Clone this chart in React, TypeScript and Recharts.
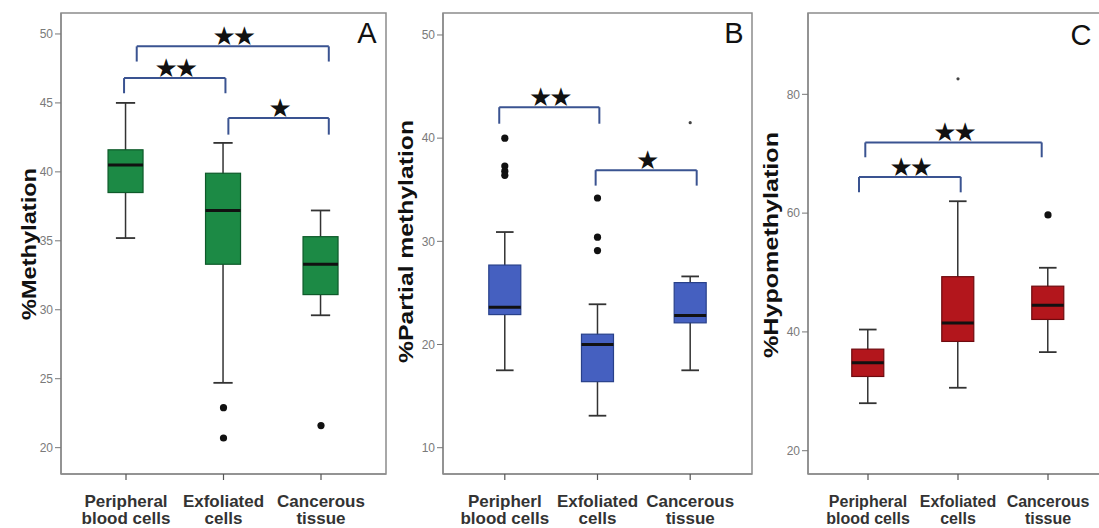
import React from 'react';
import { ComposedChart, Bar, Scatter, XAxis, YAxis, ReferenceLine, ReferenceArea } from 'recharts';

// ---------- shared ----------
const groupIndex = [0, 1, 2];

// ---------- Panel A : %Methylation ----------
const labelsA = [['Peripheral', 'blood cells'], ['Exfoliated', 'cells'], ['Cancerous', 'tissue']];
const ticksA = [20, 25, 30, 35, 40, 45, 50];
const minA = [35.2, 24.7, 29.6];
const q1A = [38.5, 33.3, 31.1];
const medA = [40.5, 37.2, 33.3];
const q3A = [41.6, 39.9, 35.3];
const maxA = [45.0, 42.1, 37.2];
const outlierXA = [1, 1, 2];
const outlierYA = [22.9, 20.7, 21.6];
const extremeXA: number[] = [];
const extremeYA: number[] = [];
const bracketFromA = [0.11, -0.02, 1.05];
const bracketToA = [2.08, 1.02, 2.08];
const bracketTopA = [49.1, 46.8, 43.9];
const bracketLowA = [48.0, 45.7, 42.7];
const signifA = ['★★', '★★', '★'];

// ---------- Panel B : %Partial methylation ----------
const labelsB = [['Peripherl', 'blood cells'], ['Exfoliated', 'cells'], ['Cancerous', 'tissue']];
const ticksB = [10, 20, 30, 40, 50];
const minB = [17.5, 13.1, 17.5];
const q1B = [22.9, 16.4, 22.1];
const medB = [23.6, 20.0, 22.8];
const q3B = [27.7, 21.0, 26.0];
const maxB = [30.9, 23.9, 26.6];
const outlierXB = [0, 0, 0, 0, 1, 1, 1];
const outlierYB = [40.0, 37.3, 36.8, 36.4, 34.2, 30.4, 29.1];
const extremeXB = [2];
const extremeYB = [41.5];
const bracketFromB = [-0.06, 0.98];
const bracketToB = [1.02, 2.07];
const bracketTopB = [43.0, 36.9];
const bracketLowB = [41.4, 35.4];
const signifB = ['★★', '★'];

// ---------- Panel C : %Hypomethylation ----------
const labelsC = [['Peripheral', 'blood cells'], ['Exfoliated', 'cells'], ['Cancerous', 'tissue']];
const ticksC = [20, 40, 60, 80];
const minC = [28.0, 30.6, 36.6];
const q1C = [32.5, 38.4, 42.1];
const medC = [34.8, 41.5, 44.5];
const q3C = [37.1, 49.3, 47.7];
const maxC = [40.4, 62.0, 50.8];
const outlierXC = [2];
const outlierYC = [59.7];
const extremeXC = [1];
const extremeYC = [82.6];
const bracketFromC = [-0.03, -0.1];
const bracketToC = [1.93, 1.03];
const bracketTopC = [71.9, 66.1];
const bracketLowC = [69.4, 63.5];
const signifC = ['★★', '★★'];

const FONT = '"Liberation Sans", Arial, Helvetica, sans-serif';
const FRAME = '#8c8c8c';
const BRACKET = '#3a5391';

type PanelProps = {
  left: number;
  width: number;
  yAxisWidth: number;
  domain: [number, number];
  ticks: number[];
  labels: string[][];
  mins: number[];
  q1s: number[];
  meds: number[];
  q3s: number[];
  maxs: number[];
  outX: number[];
  outY: number[];
  extX: number[];
  extY: number[];
  bFrom: number[];
  bTo: number[];
  bTop: number[];
  bLow: number[];
  signif: string[];
  fill: string;
  stroke: string;
  boxWidth: number;
  yLabel: string;
  yLabelX: number;
  yLabelDy: number;
  yLabelLen: number;
  letter: string;
  letterDx: number;
  letterDy: number;
  xFontSize: number;
};

const X_DOMAIN: [number, number] = [-2 / 3, 8 / 3];

function Panel(p: PanelProps) {
  const data = groupIndex.map((i) => ({
    x: i,
    min: p.mins[i],
    q1: p.q1s[i],
    med: p.meds[i],
    q3: p.q3s[i],
    max: p.maxs[i],
  }));
  const outliers = p.outX.map((x, i) => ({ x, y: p.outY[i] }));
  const extremes = p.extX.map((x, i) => ({ x, y: p.extY[i] }));
  const stars = p.bFrom.map((f, i) => ({ x: (f + p.bTo[i]) / 2, y: p.bTop[i], label: p.signif[i] }));

  const BoxShape = (props: any) => {
    const { x, y, width, height, payload } = props;
    const top = Math.min(y, y + height);
    const h = Math.abs(height);
    const span = payload.max - payload.min;
    const py = (v: number) => top + ((payload.max - v) / span) * h;
    const cx = x + width / 2;
    const bw = p.boxWidth;
    const bx = cx - bw / 2;
    const cap = bw * 0.55;
    return (
      <g>
        <line x1={cx} x2={cx} y1={py(payload.max)} y2={py(payload.min)} stroke="#333" strokeWidth={1.5} />
        <line x1={cx - cap / 2} x2={cx + cap / 2} y1={py(payload.max)} y2={py(payload.max)} stroke="#333" strokeWidth={1.8} />
        <line x1={cx - cap / 2} x2={cx + cap / 2} y1={py(payload.min)} y2={py(payload.min)} stroke="#333" strokeWidth={1.8} />
        <rect
          x={bx}
          y={py(payload.q3)}
          width={bw}
          height={py(payload.q1) - py(payload.q3)}
          fill={p.fill}
          stroke={p.stroke}
          strokeWidth={1.2}
        />
        <line x1={bx} x2={bx + bw} y1={py(payload.med)} y2={py(payload.med)} stroke="#111" strokeWidth={3} />
      </g>
    );
  };

  const XTick = (props: any) => {
    const { x, y, payload } = props;
    const lines = p.labels[payload.value] || ['', ''];
    return (
      <text textAnchor="middle" fill="#333" fontWeight="bold" fontSize={p.xFontSize} fontFamily={FONT}>
        <tspan x={x} y={y + 25}>{lines[0]}</tspan>
        <tspan x={x} y={y + 42}>{lines[1]}</tspan>
      </text>
    );
  };

  const YLabel = (props: any) => {
    const vb = props.viewBox || { x: 0, y: 0, width: 0, height: 0 };
    const cx = vb.x + p.yLabelX;
    const cy = vb.y + vb.height / 2 + p.yLabelDy;
    return (
      <text
        x={cx}
        y={cy}
        transform={`rotate(-90, ${cx}, ${cy})`}
        textAnchor="middle"
        dominantBaseline="central"
        fontWeight="bold"
        fontSize={21}
        fontFamily={FONT}
        fill="#111"
        textLength={p.yLabelLen}
        lengthAdjust="spacingAndGlyphs"
      >
        {p.yLabel}
      </text>
    );
  };

  const Letter = (props: any) => {
    const vb = props.viewBox || { x: 0, y: 0, width: 0, height: 0 };
    return (
      <text
        x={vb.x + vb.width - p.letterDx}
        y={vb.y + p.letterDy}
        textAnchor="middle"
        fontSize={29}
        fontFamily={FONT}
        fill="#111"
      >
        {p.letter}
      </text>
    );
  };

  const StarShape = (props: any) => (
    <text
      x={props.cx}
      y={props.cy - 1}
      textAnchor="middle"
      fontSize={26}
      letterSpacing={-3}
      fontFamily='"DejaVu Sans", sans-serif'
      fill="#111"
    >
      {props.payload.label}
    </text>
  );

  return (
    <div style={{ position: 'absolute', left: p.left, top: 0 }}>
      <ComposedChart
        width={p.width}
        height={528}
        data={data}
        margin={{ top: 13, right: 4, bottom: 0, left: 0 }}
      >
        <XAxis
          type="number"
          dataKey="x"
          domain={X_DOMAIN}
          allowDataOverflow
          ticks={groupIndex}
          interval={0}
          height={54}
          tickSize={6}
          tickLine={{ stroke: '#555', strokeWidth: 1.2 }}
          axisLine={{ stroke: FRAME, strokeWidth: 1.5 }}
          tick={<XTick />}
        />
        <YAxis
          type="number"
          domain={p.domain}
          allowDataOverflow
          ticks={p.ticks}
          interval={0}
          width={p.yAxisWidth}
          tickSize={6}
          tickMargin={2}
          tickLine={{ stroke: '#777', strokeWidth: 1 }}
          axisLine={{ stroke: FRAME, strokeWidth: 1.5 }}
          tick={{ fill: '#7a7a7a', fontSize: 12, fontFamily: FONT }}
          label={(lp: any) => <YLabel {...lp} />}
        />
        <ReferenceArea
          x1={X_DOMAIN[0]}
          x2={X_DOMAIN[1]}
          y1={p.domain[0]}
          y2={p.domain[1]}
          fill="none"
          fillOpacity={0}
          stroke={FRAME}
          strokeWidth={1.5}
          ifOverflow="visible"
          label={(lp: any) => <Letter {...lp} />}
        />
        {p.bFrom.map((f, i) => (
          <ReferenceLine
            key={`h${i}`}
            segment={[{ x: f, y: p.bTop[i] }, { x: p.bTo[i], y: p.bTop[i] }]}
            stroke={BRACKET}
            strokeWidth={2}
            ifOverflow="visible"
          />
        ))}
        {p.bFrom.map((f, i) => (
          <ReferenceLine
            key={`l${i}`}
            segment={[{ x: f, y: p.bTop[i] }, { x: f, y: p.bLow[i] }]}
            stroke={BRACKET}
            strokeWidth={2}
            ifOverflow="visible"
          />
        ))}
        {p.bTo.map((t, i) => (
          <ReferenceLine
            key={`r${i}`}
            segment={[{ x: t, y: p.bTop[i] }, { x: t, y: p.bLow[i] }]}
            stroke={BRACKET}
            strokeWidth={2}
            ifOverflow="visible"
          />
        ))}
        <Bar
          dataKey={(d: any) => [d.min, d.max]}
          barSize={p.boxWidth}
          shape={<BoxShape />}
          isAnimationActive={false}
        />
        <Scatter
          data={outliers}
          dataKey="y"
          isAnimationActive={false}
          shape={(sp: any) => <circle cx={sp.cx} cy={sp.cy} r={3.6} fill="#111" />}
        />
        <Scatter
          data={extremes}
          dataKey="y"
          isAnimationActive={false}
          shape={(sp: any) => <circle cx={sp.cx} cy={sp.cy} r={1.6} fill="#444" />}
        />
        <Scatter data={stars} dataKey="y" isAnimationActive={false} shape={<StarShape />} />
      </ComposedChart>
    </div>
  );
}

export default function App() {
  return (
    <div
      style={{
        position: 'absolute',
        left: 0,
        top: 0,
        width: 1099,
        height: 528,
        overflow: 'hidden',
        background: '#fff',
        fontFamily: FONT,
      }}
    >
      <Panel
        left={0}
        width={390}
        yAxisWidth={61}
        domain={[18.09, 51.52]}
        ticks={ticksA}
        labels={labelsA}
        mins={minA}
        q1s={q1A}
        meds={medA}
        q3s={q3A}
        maxs={maxA}
        outX={outlierXA}
        outY={outlierYA}
        extX={extremeXA}
        extY={extremeYA}
        bFrom={bracketFromA}
        bTo={bracketToA}
        bTop={bracketTopA}
        bLow={bracketLowA}
        signif={signifA}
        fill="#1c8a45"
        stroke="#0e5a2a"
        boxWidth={35}
        yLabel="%Methylation"
        yLabelX={28}
        yLabelDy={0.5}
        yLabelLen={152}
        letter="A"
        letterDx={19}
        letterDy={30}
        xFontSize={17}
      />
      <Panel
        left={390}
        width={366}
        yAxisWidth={53}
        domain={[7.45, 52.13]}
        ticks={ticksB}
        labels={labelsB}
        mins={minB}
        q1s={q1B}
        meds={medB}
        q3s={q3B}
        maxs={maxB}
        outX={outlierXB}
        outY={outlierYB}
        extX={extremeXB}
        extY={extremeYB}
        bFrom={bracketFromB}
        bTo={bracketToB}
        bTop={bracketTopB}
        bLow={bracketLowB}
        signif={signifB}
        fill="#4560c0"
        stroke="#28408a"
        boxWidth={32}
        yLabel="%Partial methylation"
        yLabelX={15}
        yLabelDy={-2}
        yLabelLen={243}
        letter="B"
        letterDx={18}
        letterDy={30}
        xFontSize={17}
      />
      <Panel
        left={756}
        width={356}
        yAxisWidth={52}
        domain={[16.08, 93.69]}
        ticks={ticksC}
        labels={labelsC}
        mins={minC}
        q1s={q1C}
        meds={medC}
        q3s={q3C}
        maxs={maxC}
        outX={outlierXC}
        outY={outlierYC}
        extX={extremeXC}
        extY={extremeYC}
        bFrom={bracketFromC}
        bTo={bracketToC}
        bTop={bracketTopC}
        bLow={bracketLowC}
        signif={signifC}
        fill="#b3161c"
        stroke="#6e0a0e"
        boxWidth={32}
        yLabel="%Hypomethylation"
        yLabelX={14}
        yLabelDy={1.5}
        yLabelLen={226}
        letter="C"
        letterDx={27}
        letterDy={32}
        xFontSize={16}
      />
    </div>
  );
}
